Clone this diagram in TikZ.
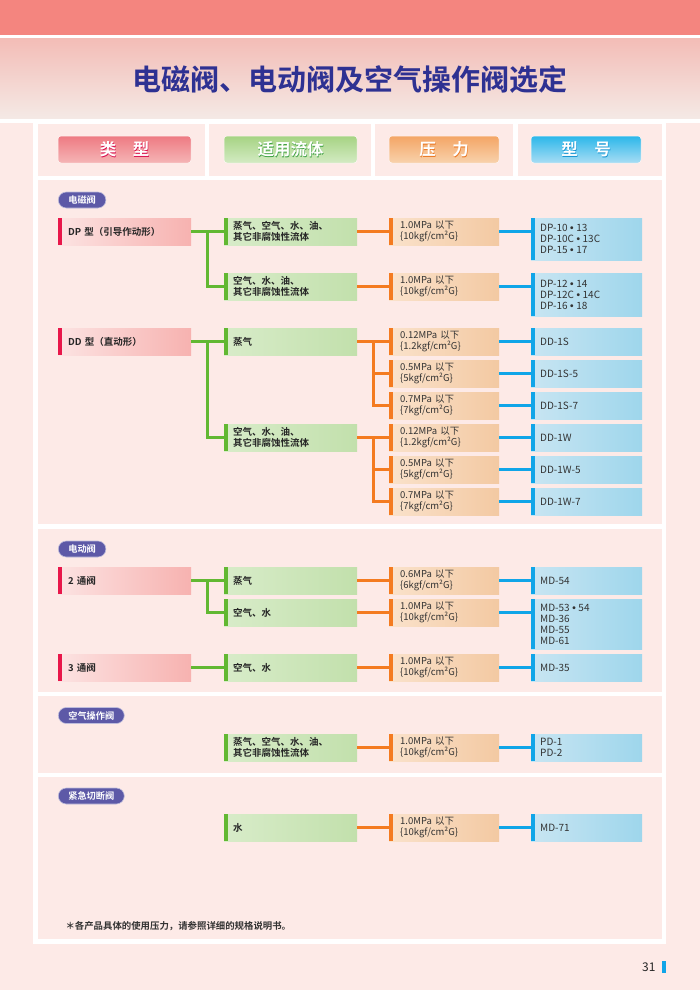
\documentclass[tikz,border=0pt]{standalone}
\usepackage{fontspec}
\setmainfont{Noto Sans CJK SC}[BoldFont={Noto Sans CJK SC Bold}]
\newfontfamily\lsans{Liberation Sans}
\newcommand\bul{\hspace{2.6pt}{\lsans\bfseries •}\hspace{2.6pt}}
\newcommand\shtext[2]{\rlap{\kern0.7pt\raisebox{-1pt}{\color{#1}#2}}#2}
\usetikzlibrary{calc}
\definecolor{pagebg}{HTML}{FDEAE7}
\definecolor{topband}{HTML}{F4857F}
\definecolor{titletop}{HTML}{F3BDB7}
\definecolor{titlebot}{HTML}{F4E9E5}
\definecolor{navy}{HTML}{2E3192}
\definecolor{cRed}{HTML}{E8174A}
\definecolor{cGreen}{HTML}{62B832}
\definecolor{cOrange}{HTML}{F47B20}
\definecolor{cBlue}{HTML}{10A5E8}
\definecolor{tyL}{HTML}{FCE3E2}
\definecolor{tyR}{HTML}{F7B2B0}
\definecolor{grL}{HTML}{D8ECC9}
\definecolor{grR}{HTML}{C2E0AC}
\definecolor{orL}{HTML}{FAE2CB}
\definecolor{orR}{HTML}{F3C9A2}
\definecolor{blL}{HTML}{C8E5F2}
\definecolor{blR}{HTML}{9ED6EC}
\definecolor{tagc}{HTML}{5D59A7}
\definecolor{txt}{HTML}{333333}
\definecolor{h1t}{HTML}{EE7A82}
\definecolor{h1b}{HTML}{F5B5B6}
\definecolor{h1s}{HTML}{D8104F}
\definecolor{h2t}{HTML}{A6D383}
\definecolor{h2b}{HTML}{D3EBC3}
\definecolor{h2s}{HTML}{3FA043}
\definecolor{h3t}{HTML}{F4A565}
\definecolor{h3b}{HTML}{F8D2AC}
\definecolor{h3s}{HTML}{E9741E}
\definecolor{h4t}{HTML}{2BB7EA}
\definecolor{h4b}{HTML}{A8DDF4}
\definecolor{h4s}{HTML}{1492D0}
\tikzset{
  tbox/.style={rectangle, anchor=north west, inner ysep=0pt, align=left,
    font=\bfseries\fontsize{9.5}{11}\selectfont, text=black!85},
  typebox/.style={tbox, minimum height=27pt, inner xsep=10pt, text width=113pt,
    left color=tyL, right color=tyR,
    path picture={\fill[cRed] (path picture bounding box.north west) rectangle ([xshift=4pt]path picture bounding box.south west);}},
  gbox/.style={tbox, minimum height=27pt, inner xsep=9pt, text width=115pt,
    left color=grL, right color=grR,
    path picture={\fill[cGreen] (path picture bounding box.north west) rectangle ([xshift=3.5pt]path picture bounding box.south west);}},
  obox/.style={tbox, font=\fontsize{9.5}{11}\selectfont, text=txt, minimum height=27pt, inner xsep=11pt, text width=88pt,
    left color=orL, right color=orR,
    path picture={\fill[cOrange] (path picture bounding box.north west) rectangle ([xshift=3.5pt]path picture bounding box.south west);}},
  bbox/.style={tbox, font=\fontsize{10}{11}\selectfont, text=txt, minimum height=27pt, inner xsep=9pt, text width=93pt,
    left color=blL, right color=blR,
    path picture={\fill[cBlue] (path picture bounding box.north west) rectangle ([xshift=3.5pt]path picture bounding box.south west);}},
  tag/.style={rectangle, rounded corners=8pt, fill=tagc, draw=tagc!40!white, line width=0.6pt,
    minimum height=16pt, inner xsep=10pt, inner ysep=0pt, anchor=west,
    text=white, font=\bfseries\fontsize{9.2}{10}\selectfont},
  hpill/.style={rectangle, rounded corners=3pt, minimum height=27pt, inner sep=0pt,
    draw=white!60!pagebg, line width=0.5pt,
    text=white, font=\bfseries\fontsize{16.5}{18}\selectfont},
  gline/.style={draw=cGreen, line width=2.6pt},
  oline/.style={draw=cOrange, line width=2.6pt},
  bline/.style={draw=cBlue, line width=2.6pt},
}
\begin{document}
\begin{tikzpicture}[x=1pt,y=-1pt]
\useasboundingbox (0,0) rectangle (700,990);
% backgrounds
\fill[pagebg] (0,0) rectangle (700,990);
\fill[topband] (0,0) rectangle (700,35);
\fill[white] (0,35) rectangle (700,123);
\shade[top color=titletop,bottom color=titlebot] (0,39) rectangle (700,118);
\fill[white] (33,123) rectangle (666,944);
\fill[pagebg] (38,124) rectangle (205,176);
\fill[pagebg] (209,124) rectangle (371,176);
\fill[pagebg] (375,124) rectangle (513,176);
\fill[pagebg] (518,124) rectangle (662,176);
\fill[pagebg] (38,180) rectangle (662,524);
\fill[pagebg] (38,529) rectangle (662,692);
\fill[pagebg] (38,696) rectangle (662,773);
\fill[pagebg] (38,777) rectangle (662,939);

% title
\node[font=\bfseries\fontsize{29}{32}\selectfont, text=navy] (title) at (350,79) {电磁阀、电动阀及空气操作阀选定};

% header pills
\node[hpill, minimum width=133pt, top color=h1t, bottom color=h1b] (h1) at (124.5,149.5) {\shtext{h1s}{类　型}};
\node[hpill, minimum width=133pt, top color=h2t, bottom color=h2b] (h2) at (290.5,149.5) {\shtext{h2s}{适用流体}};
\node[hpill, minimum width=110pt, top color=h3t, bottom color=h3b] (h3) at (444,149.5) {\shtext{h3s}{压　力}};
\node[hpill, minimum width=110pt, top color=h4t, bottom color=h4b] (h4) at (586,149.5) {\shtext{h4s}{型　号}};

% ---------- section 1: 电磁阀
\node[tag] (tag1) at (58,200) {电磁阀};
\node[typebox] (dp) at (58,218) {DP 型（引导作动形）};
\node[gbox] (g1) at (224,218) {蒸气、空气、水、油、\\其它非腐蚀性流体};
\node[gbox] (g2) at (224,273) {空气、水、油、\\其它非腐蚀性流体};
\node[obox] (o1) at (389,218) {1.0MPa 以下\\\{10kgf/cm²G\}};
\node[obox] (o2) at (389,273) {1.0MPa 以下\\\{10kgf/cm²G\}};
\node[bbox, minimum height=42pt] (b1) at (531,218) {DP-10\bul 13\\DP-10C\bul 13C\\DP-15\bul 17};
\node[bbox, minimum height=43pt] (b2) at (531,273) {DP-12\bul 14\\DP-12C\bul 14C\\DP-16\bul 18};

\node[typebox] (dd) at (58,328) {DD 型（直动形）};
\node[gbox] (g3) at (224,328) {蒸气};
\node[gbox] (g4) at (224,424) {空气、水、油、\\其它非腐蚀性流体};
\node[obox] (o3) at (389,328) {0.12MPa 以下\\\{1.2kgf/cm²G\}};
\node[obox] (o4) at (389,360) {0.5MPa 以下\\\{5kgf/cm²G\}};
\node[obox] (o5) at (389,392) {0.7MPa 以下\\\{7kgf/cm²G\}};
\node[obox] (o6) at (389,424) {0.12MPa 以下\\\{1.2kgf/cm²G\}};
\node[obox] (o7) at (389,456) {0.5MPa 以下\\\{5kgf/cm²G\}};
\node[obox] (o8) at (389,488) {0.7MPa 以下\\\{7kgf/cm²G\}};
\node[bbox] (b3) at (531,328) {DD-1S};
\node[bbox] (b4) at (531,360) {DD-1S-5};
\node[bbox] (b5) at (531,392) {DD-1S-7};
\node[bbox] (b6) at (531,424) {DD-1W};
\node[bbox] (b7) at (531,456) {DD-1W-5};
\node[bbox] (b8) at (531,488) {DD-1W-7};

% ---------- section 2: 电动阀
\node[tag] (tag2) at (58,549) {电动阀};
\node[typebox] (t2) at (58,567) {2 通阀};
\node[gbox] (g5) at (224,567) {蒸气};
\node[gbox] (g6) at (224,599) {空气、水};
\node[obox] (o9) at (389,567) {0.6MPa 以下\\\{6kgf/cm²G\}};
\node[obox] (o10) at (389,599) {1.0MPa 以下\\\{10kgf/cm²G\}};
\node[bbox] (b9) at (531,567) {MD-54};
\node[bbox, minimum height=50pt] (b10) at (531,599) {MD-53\bul 54\\MD-36\\MD-55\\MD-61};
\node[typebox] (t3) at (58,654) {3 通阀};
\node[gbox] (g7) at (224,654) {空气、水};
\node[obox] (o11) at (389,654) {1.0MPa 以下\\\{10kgf/cm²G\}};
\node[bbox] (b11) at (531,654) {MD-35};

% ---------- section 3: 空气操作阀
\node[tag] (tag3) at (58,715.5) {空气操作阀};
\node[gbox] (g8) at (224,734) {蒸气、空气、水、油、\\其它非腐蚀性流体};
\node[obox] (o12) at (389,734) {1.0MPa 以下\\\{10kgf/cm²G\}};
\node[bbox] (b12) at (531,734) {PD-1\\PD-2};

% ---------- section 4: 紧急切断阀
\node[tag] (tag4) at (58,796) {紧急切断阀};
\node[gbox] (g9) at (224,814) {水};
\node[obox] (o13) at (389,814) {1.0MPa 以下\\\{10kgf/cm²G\}};
\node[bbox] (b13) at (531,814) {MD-71};

% ---------- connectors: type -> fluid
\draw[gline] (dp.east) -- (g1.west);
\draw[gline] ($(dp.east)+(16,0)$) |- (g2.west);
\draw[gline] (dd.east) -- (g3.west);
\draw[gline] ($(dd.east)+(16,0)$) |- (g4.west);
\draw[gline] (t2.east) -- (g5.west);
\draw[gline] ($(t2.east)+(16,0)$) |- (g6.west);
\draw[gline] (t3.east) -- (g7.west);

% fluid -> pressure
\draw[oline] (g1.east) -- (o1.west);
\draw[oline] (g2.east) -- (o2.west);
\draw[oline] (g3.east) -- (o3.west);
\draw[oline] ($(g3.east)+(16,0)$) |- (o4.west);
\draw[oline] ($(g3.east)+(16,0)$) |- (o5.west);
\draw[oline] (g4.east) -- (o6.west);
\draw[oline] ($(g4.east)+(16,0)$) |- (o7.west);
\draw[oline] ($(g4.east)+(16,0)$) |- (o8.west);
\draw[oline] (g5.east) -- (o9.west);
\draw[oline] (g6.east) -- (o10.west);
\draw[oline] (g7.east) -- (o11.west);
\draw[oline] (g8.east) -- (o12.west);
\draw[oline] (g9.east) -- (o13.west);

% pressure -> model
\draw[bline] (o1.east) -- (o1.east -| b1.west);
\draw[bline] (o2.east) -- (o2.east -| b2.west);
\draw[bline] (o3.east) -- (b3.west);
\draw[bline] (o4.east) -- (b4.west);
\draw[bline] (o5.east) -- (b5.west);
\draw[bline] (o6.east) -- (b6.west);
\draw[bline] (o7.east) -- (b7.west);
\draw[bline] (o8.east) -- (b8.west);
\draw[bline] (o9.east) -- (b9.west);
\draw[bline] (o10.east) -- (o10.east -| b10.west);
\draw[bline] (o11.east) -- (b11.west);
\draw[bline] (o12.east) -- (b12.west);
\draw[bline] (o13.east) -- (b13.west);

% footnote and page number
\node[anchor=west, font=\bfseries\fontsize{9.4}{10}\selectfont, text=txt] (fn) at (62,926) {＊各产品具体的使用压力，请参照详细的规格说明书。};
\node[anchor=east, font=\fontsize{12}{14}\selectfont, text=black!85] (pg) at (659,967) {31};
\fill[cBlue] (662,961) rectangle (666,973);
\end{tikzpicture}
\end{document}
